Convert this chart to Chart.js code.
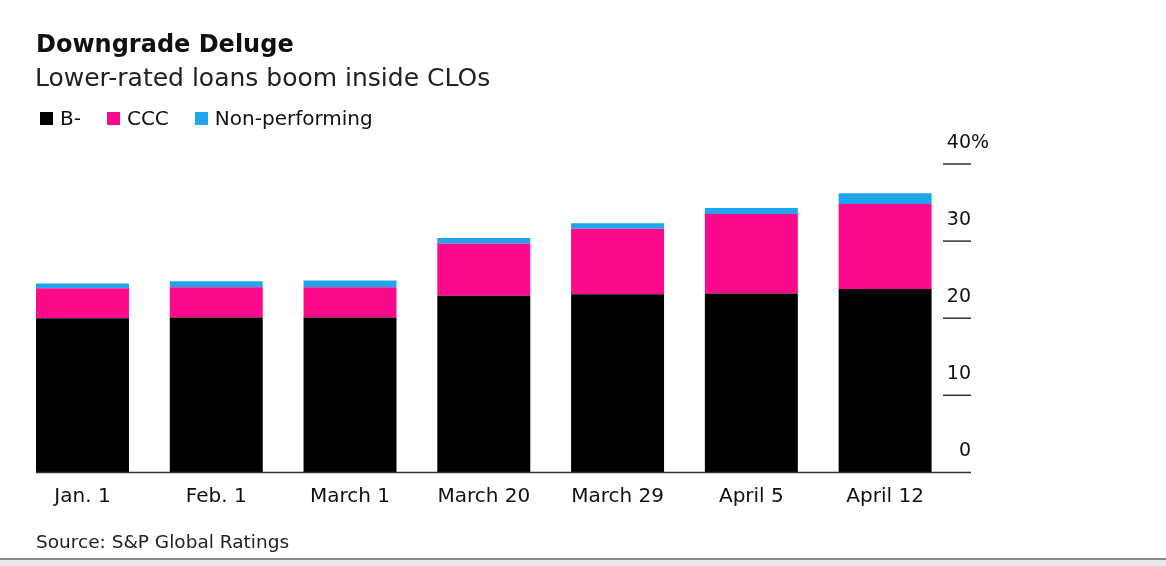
<!DOCTYPE html>
<html>
<head>
<meta charset="utf-8">
<script src="https://cdn.jsdelivr.net/npm/chart.js@4.4.1/dist/chart.umd.min.js"></script>
<style>
  body { margin: 0; background: #fff; font-family: "DejaVu Sans", sans-serif; }
  #wrap { position: relative; width: 1166px; height: 566px; overflow: hidden; }
  #chart { position: absolute; left: 0; top: 0; }
  .txt { position: absolute; color: #111; white-space: nowrap; }
  #title { left: 36px; top: 30px; font-size: 24px; font-weight: bold; }
  #sub { left: 35px; top: 63px; font-size: 25px; color: #222; }
  #legend { left: 40px; top: 106px; font-size: 20px; display: flex; align-items: center; }
  #legend span.sq { display: inline-block; width: 13px; height: 13px; margin-right: 7px; }
  #legend span.lb { margin-right: 26px; }
  #source { left: 36px; top: 531px; font-size: 18.5px; color: #222; }
  #foot { position: absolute; left: 0; top: 558px; width: 1166px; height: 8px; background: #e8e8e8; border-top: 2px solid #888; box-sizing: border-box; }
</style>
</head>
<body>
<div id="wrap">
  <canvas id="chart" width="1166" height="566"></canvas>
  <div class="txt" id="title">Downgrade Deluge</div>
  <div class="txt" id="sub">Lower-rated loans boom inside CLOs</div>
  <div class="txt" id="legend"></div>
  <div class="txt" id="source">Source: S&amp;P Global Ratings</div>
  <div id="foot"></div>
</div>
<script>
const fechas = ['Jan. 1', 'Feb. 1', 'March 1', 'March 20', 'March 29', 'April 5', 'April 12'];
const bMenos = [20.0, 20.1, 20.1, 22.9, 23.1, 23.2, 23.8];
const ccc = [3.9, 3.9, 3.9, 6.8, 8.5, 10.3, 11.0];
const noPerf = [0.6, 0.8, 0.9, 0.7, 0.7, 0.8, 1.4];
const yTicks = [0, 10, 20, 30, 40];

const colores = { b: '#000000', ccc: '#fc0a8c', np: '#1ea5ee' };
const fuente = '"DejaVu Sans", sans-serif';

// leyenda en html
const leyenda = document.getElementById('legend');
[['B-', colores.b], ['CCC', colores.ccc], ['Non-performing', colores.np]].forEach(([t, c]) => {
  leyenda.innerHTML += `<span class="sq" style="background:${c}"></span><span class="lb">${t}</span>`;
});

// eje y a la derecha: rayita + numero encima
const ejeDerecho = {
  id: 'ejeDerecho',
  afterDraw(chart) {
    const { ctx, scales: { x, y } } = chart;
    const xFin = 971;
    ctx.save();
    ctx.strokeStyle = '#333';
    ctx.lineWidth = 1.5;
    ctx.fillStyle = '#111';
    ctx.font = '19px ' + fuente;
    ctx.textBaseline = 'middle';
    yTicks.forEach(v => {
      const py = y.getPixelForValue(v);
      if (v > 0) {
        ctx.beginPath();
        ctx.moveTo(943, py);
        ctx.lineTo(xFin, py);
        ctx.stroke();
      }
      ctx.textAlign = 'right';
      ctx.fillText(String(v), xFin, py - 21);
      if (v === 40) {
        ctx.textAlign = 'left';
        ctx.fillText('%', xFin, py - 21);
      }
    });
    // linea base
    const meta = chart.getDatasetMeta(0).data[0];
    const py0 = y.getPixelForValue(0);
    ctx.beginPath();
    ctx.moveTo(meta.x - meta.width / 2, py0);
    ctx.lineTo(xFin, py0);
    ctx.stroke();
    ctx.restore();
  }
};

const config = {
  type: 'bar',
  data: {
    labels: fechas,
    datasets: [
      { label: 'B-', data: bMenos, backgroundColor: colores.b },
      { label: 'CCC', data: ccc, backgroundColor: colores.ccc },
      { label: 'Non-performing', data: noPerf, backgroundColor: colores.np }
    ]
  },
  options: {
    responsive: false,
    animation: false,
    layout: { padding: { left: 15.6, right: 214, top: 164, bottom: 53.6 } },
    plugins: { legend: { display: false }, tooltip: { enabled: false } },
    datasets: { bar: { categoryPercentage: 1, barPercentage: 0.695 } },
    scales: {
      x: {
        stacked: true,
        grid: { display: false },
        border: { display: false },
        ticks: { color: '#111', font: { size: 20, family: fuente }, padding: 4, maxRotation: 0 }
      },
      y: {
        stacked: true,
        display: false,
        min: 0,
        max: 40
      }
    }
  },
  plugins: [ejeDerecho]
};

new Chart(document.getElementById('chart'), config);
</script>
</body>
</html>
